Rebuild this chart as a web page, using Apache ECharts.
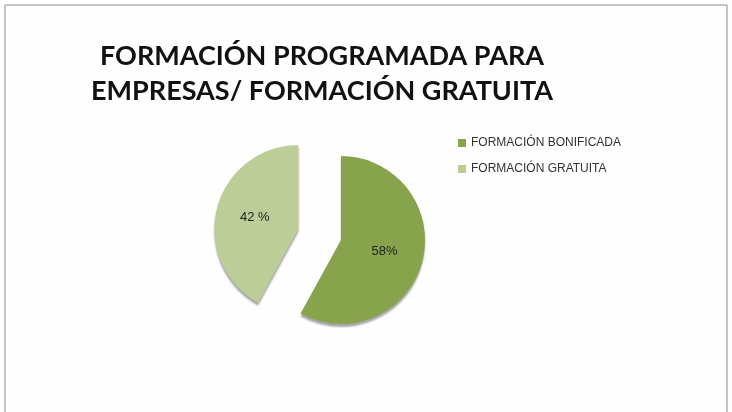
<!DOCTYPE html>
<html>
<head>
<meta charset="utf-8">
<script src="https://cdn.jsdelivr.net/npm/echarts@6/dist/echarts.min.js"></script>
<style>
  html, body { margin: 0; padding: 0; background: #fff; }
  #chart { width: 732px; height: 412px; }
</style>
</head>
<body>
<div id="chart"></div>
<script>
  // datos del gráfico
  var categories = ['FORMACIÓN BONIFICADA', 'FORMACIÓN GRATUITA']
  var values = [58, 42]
  var valueLabels = ['58%', '42 %']
  var colors = ['#87a34c', '#bccd98']

  var chart = echarts.init(document.getElementById('chart'))

  var pieData = categories.map(function (name, i) {
    return {
      name: name,
      value: values[i],
      selected: i === 1,
      itemStyle: { color: colors[i] },
      label: { formatter: valueLabels[i] }
    }
  })

  chart.setOption({
    backgroundColor: '#fefefe',
    animation: false,
    graphic: [{
      type: 'rect',
      shape: { x: 5, y: 5, width: 722, height: 420 },
      style: { fill: 'none', stroke: '#8c8c8c', lineWidth: 1 },
      silent: true
    }],
    title: {
      text: 'FORMACIÓN PROGRAMADA PARA\nEMPRESAS/ FORMACIÓN GRATUITA',
      left: 317,
      top: 34,
      textAlign: 'center',
      textStyle: {
        fontFamily: 'Lato',
        fontWeight: 'bold',
        fontSize: 27,
        lineHeight: 35,
        color: '#111'
      }
    },
    legend: {
      orient: 'vertical',
      left: 453,
      top: 132,
      itemWidth: 8,
      itemHeight: 8,
      itemGap: 14,
      icon: 'rect',
      selectedMode: false,
      textStyle: {
        fontFamily: 'Liberation Sans',
        fontSize: 12,
        color: '#333'
      },
      data: categories
    },
    series: [{
      type: 'pie',
      center: [341, 240],
      radius: 84,
      startAngle: 90,
      clockwise: true,
      selectedMode: 'single',
      selectedOffset: 44,
      itemStyle: {
        shadowColor: 'rgba(0,0,0,0.35)',
        shadowOffsetY: 3,
        shadowBlur: 2
      },
      label: {
        position: 'inner',
        fontFamily: 'Liberation Sans',
        fontSize: 13,
        color: '#222'
      },
      labelLine: { show: false },
      emphasis: { disabled: true },
      data: pieData
    }]
  })
</script>
</body>
</html>
